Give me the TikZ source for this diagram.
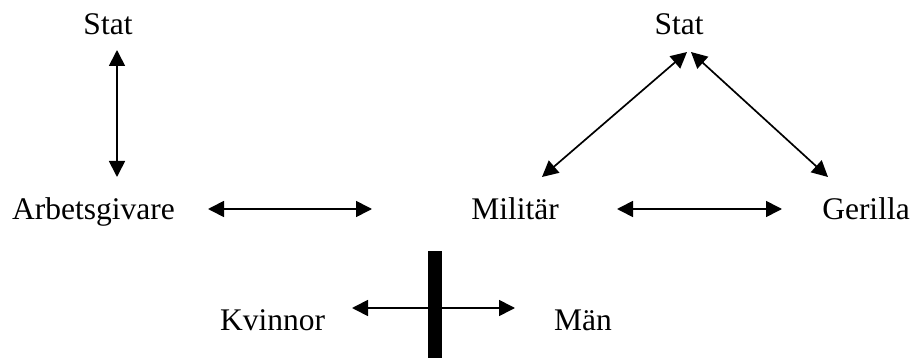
\documentclass[tikz,border=0pt]{standalone}
\usepackage{fontspec}
\setmainfont{Liberation Serif}
\usetikzlibrary{arrows.meta}
\begin{document}
\begin{tikzpicture}[x=1pt,y=-1pt,
  lbl/.style={anchor=base,inner sep=0pt,font=\fontsize{31.5}{36}\selectfont},
  rel/.style={line width=1.7pt,{Triangle[length=16pt,width=16pt]}-{Triangle[length=16pt,width=16pt]}},
  bar/.style={fill=black}]
\useasboundingbox (0,0) rectangle (916,358);
% texts
\node[lbl] (statL) at (108,35) {Stat};
\node[lbl] (arb) at (93.5,220) {Arbetsgivare};
\node[lbl] (statR) at (679,35) {Stat};
\node[lbl] (mil) at (515,220) {Militär};
\node[lbl] (ger) at (866,220) {Gerilla};
\node[lbl] (kvi) at (272.5,330) {Kvinnor};
\node[lbl] (man) at (583,330) {Män};
% arrow end points
\coordinate (a1) at (117,50);
\coordinate (a2) at (117,177);
\coordinate (b1) at (208,209);
\coordinate (b2) at (372,209);
\coordinate (c1) at (687,52);
\coordinate (c2) at (542,177);
\coordinate (d1) at (691,52);
\coordinate (d2) at (828,177);
\coordinate (e1) at (617,209);
\coordinate (e2) at (782,209);
\coordinate (f1) at (352,308);
\coordinate (f2) at (515,308);
\draw[rel] (a1) -- (a2);
\draw[rel] (b1) -- (b2);
\draw[rel] (c1) -- (c2);
\draw[rel] (d1) -- (d2);
\draw[rel] (e1) -- (e2);
\draw[rel] (f1) -- (f2);
% thick bar
\fill[bar] (428,251) rectangle (442,358);
\end{tikzpicture}
\end{document}
